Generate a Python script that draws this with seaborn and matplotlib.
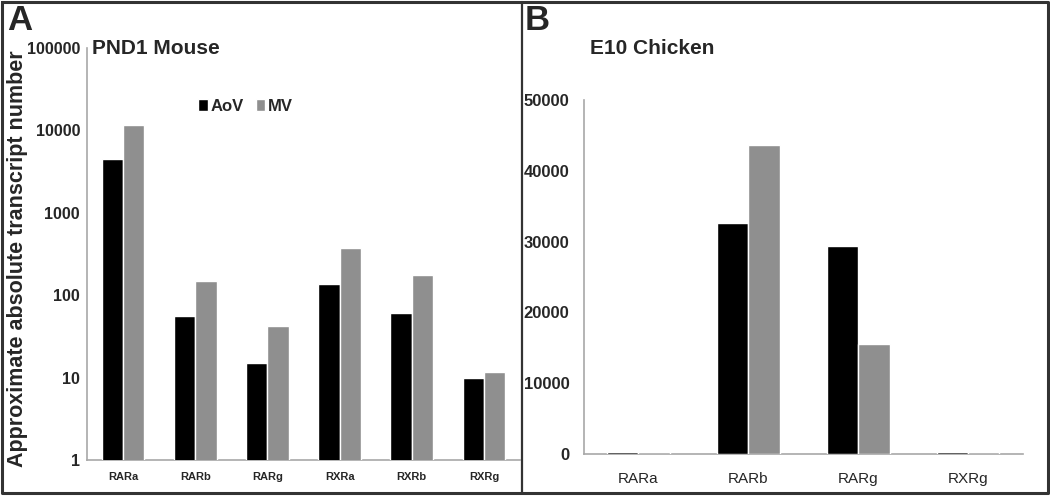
"""Retinoic acid receptor transcript numbers: PND1 mouse valves (log) and E10 chicken (linear)."""

import matplotlib

matplotlib.use("Agg")
import matplotlib.pyplot as plt
import numpy as np
import pandas as pd
import seaborn as sns
from matplotlib.lines import Line2D
from matplotlib.ticker import FixedLocator, NullFormatter, NullLocator

# ── Data ──
mouse_genes = ["RARa", "RARb", "RARg", "RXRa", "RXRb", "RXRg"]
mouse_aov = [4450, 56, 15, 136, 61, 9.8]
mouse_mv = [11500, 149, 42, 369, 175, 11.8]

chicken_genes = ["RARa", "RARb", "RARg", "RXRg"]
chicken_aov = [350, 32600, 29400, 350]
chicken_mv = [220, 43700, 15600, 220]

valves = ["AoV", "MV"]
mouse_yticks = [1, 10, 100, 1000, 10000, 100000]
chicken_yticks = [0, 10000, 20000, 30000, 40000, 50000]

W, H = 1050, 497
BAR_COLORS = {"AoV": "#000000", "MV": "#8f8f8f"}
AXIS_GREY = "#a8a8a8"
FRAME = "#333333"


def long_table(genes, aov, mv):
    return pd.DataFrame(
        {
            "gene": genes * 2,
            "valve": ["AoV"] * len(genes) + ["MV"] * len(genes),
            "value": list(aov) + list(mv),
        }
    )


def px_box(left, top, right, bottom):
    """Pixel box (origin top-left) -> figure fraction rect."""
    return [left / W, 1 - bottom / H, (right - left) / W, (bottom - top) / H]


def style_axis(ax, n):
    sns.despine(ax=ax)
    for side in ("left", "bottom"):
        ax.spines[side].set_color(AXIS_GREY)
        ax.spines[side].set_linewidth(1.2)
        ax.spines[side].set_zorder(0.5)
    ax.set_xlim(-0.5, n - 0.5)
    # tick marks sit between the categories, labels at the centres
    ax.xaxis.set_major_locator(FixedLocator(np.arange(-0.5, n)))
    ax.xaxis.set_major_formatter(NullFormatter())
    ax.xaxis.set_minor_locator(FixedLocator(np.arange(n)))
    ax.tick_params(axis="x", which="major", length=5, width=1, color=AXIS_GREY)
    ax.tick_params(axis="x", which="minor", length=0, pad=9)
    ax.tick_params(axis="y", which="major", length=4, width=1, color=AXIS_GREY)
    ax.set_xlabel("")
    ax.set_ylabel("")


sns.set_theme(style="white")
plt.rcParams["font.family"] = ["Liberation Sans", "DejaVu Sans"]

fig = plt.figure(figsize=(W / 100, H / 100), dpi=100)

# ── Panel A: mouse, log scale ──
ax_a = fig.add_axes(px_box(87, 48, 520, 460))
sns.barplot(
    data=long_table(mouse_genes, mouse_aov, mouse_mv),
    x="gene", y="value", hue="valve", hue_order=valves,
    palette=BAR_COLORS, width=0.59, saturation=1, ax=ax_a,
)
ax_a.set_yscale("log")
ax_a.set_ylim(1, 100000)
ax_a.yaxis.set_major_locator(FixedLocator(mouse_yticks))
ax_a.set_yticklabels([str(v) for v in mouse_yticks], fontsize=11.5, fontweight="bold")
ax_a.yaxis.set_minor_locator(NullLocator())
style_axis(ax_a, len(mouse_genes))
ax_a.set_xticks(np.arange(len(mouse_genes)), mouse_genes, minor=True,
                fontsize=8, fontweight="bold")
ax_a.tick_params(axis="y", pad=1)

handles, labels = ax_a.get_legend_handles_labels()
ax_a.legend(
    handles, labels, ncol=2, frameon=False,
    loc="center left", bbox_to_anchor=(190 / W, 1 - 106 / H),
    bbox_transform=fig.transFigure, borderpad=0,
    handlelength=0.55, handleheight=0.75, handletextpad=0.2, columnspacing=0.7,
    prop={"size": 12, "weight": "bold"},
)

ax_a.set_ylabel("Approximate absolute transcript number", fontsize=15.5,
                fontweight="bold", va="center")
ax_a.yaxis.set_label_coords(18 / W, 1 - 259 / H, transform=fig.transFigure)

# ── Panel B: chicken, linear scale ──
ax_b = fig.add_axes(px_box(583.5, 100, 1023, 454))
sns.barplot(
    data=long_table(chicken_genes, chicken_aov, chicken_mv),
    x="gene", y="value", hue="valve", hue_order=valves,
    palette=BAR_COLORS, width=0.57, saturation=1, ax=ax_b, legend=False,
)
ax_b.set_ylim(0, 50000)
ax_b.set_yticks(chicken_yticks, [str(v) for v in chicken_yticks],
                fontsize=12, fontweight="bold")
style_axis(ax_b, len(chicken_genes))
ax_b.set_xticks(np.arange(len(chicken_genes)), chicken_genes, minor=True, fontsize=11)
ax_b.tick_params(axis="x", which="minor", pad=13)
ax_b.tick_params(axis="y", pad=6)

# ── Titles, panel letters, frames ──
fig.text(92 / W, 1 - 48 / H, "PND1 Mouse", fontsize=15, fontweight="bold", va="center")
fig.text(590 / W, 1 - 48 / H, "E10 Chicken", fontsize=15, fontweight="bold", va="center")
fig.text(7 / W, 1 - 21 / H, "A", fontsize=25, fontweight="bold", va="center")
fig.text(525 / W, 1 - 20 / H, "B", fontsize=25, fontweight="bold", va="center")

frame = [(2, 2), (1048, 2), (1048, 493), (2, 493), (2, 2)]
fig.add_artist(Line2D([x / W for x, _ in frame], [1 - y / H for _, y in frame],
                      color=FRAME, linewidth=2.2, transform=fig.transFigure))
fig.add_artist(Line2D([521.5 / W, 521.5 / W], [1 - 2 / H, 1 - 493 / H],
                      color=FRAME, linewidth=1.6, transform=fig.transFigure))

fig.savefig("out.png", dpi=100)
plt.close(fig)
